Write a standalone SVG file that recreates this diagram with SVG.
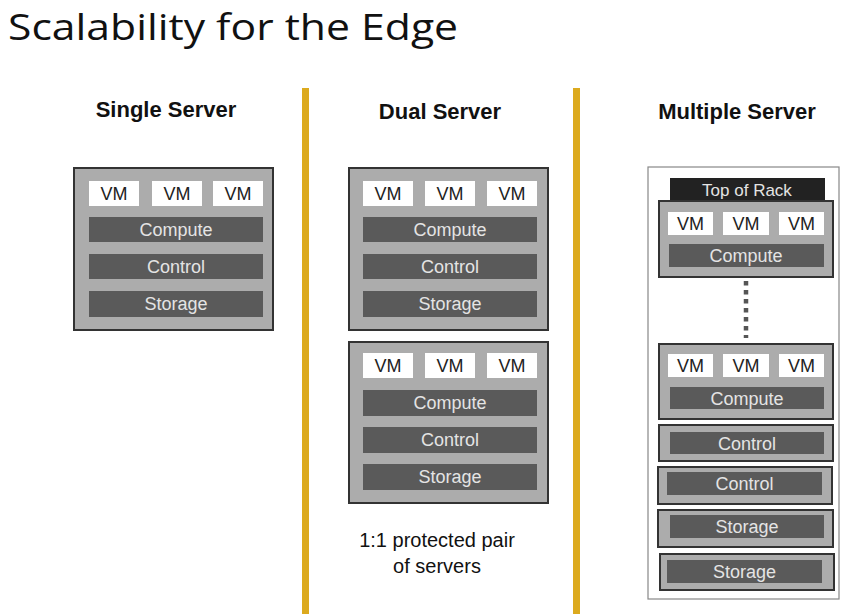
<svg xmlns="http://www.w3.org/2000/svg" width="865" height="614" viewBox="0 0 865 614">
<style>
text{font-family:"Liberation Sans",Arial,sans-serif;text-anchor:middle}
.title{font-family:"Open Sans","Liberation Sans",sans-serif;font-size:37px;fill:#111;text-anchor:start}
.hdr{font-size:22px;font-weight:bold;fill:#111}
.box{fill:#acacac;stroke:#333;stroke-width:2}
.vm{fill:#fff}
.vmt{font-size:18px;fill:#222}
.bar{fill:#5a5a5a}
.bt{font-size:18px;fill:#e4e4e4}
.tor{fill:#222}
.note{font-size:20px;fill:#111}
.div{fill:#dcaa1e}
.frame{fill:#fff;stroke:#888;stroke-width:1.2}
</style>
<rect width="865" height="614" fill="#fff"/>
<text class="title" x="8" y="40" textLength="450" lengthAdjust="spacingAndGlyphs">Scalability for the Edge</text>
<rect class="div" x="302" y="88" width="7" height="526"/>
<rect class="div" x="573" y="88" width="7" height="526"/>
<text class="hdr" x="166" y="117">Single Server</text>
<text class="hdr" x="440" y="119">Dual Server</text>
<text class="hdr" x="737" y="119">Multiple Server</text>

<g id="single-server">
<rect class="box" x="74" y="168" width="199" height="162"/>
<rect class="vm" x="89" y="181" width="50" height="25"/><text class="vmt" x="114" y="200">VM</text>
<rect class="vm" x="152" y="181" width="50" height="25"/><text class="vmt" x="177" y="200">VM</text>
<rect class="vm" x="213" y="181" width="50" height="25"/><text class="vmt" x="238" y="200">VM</text>
<rect class="bar" x="89" y="217" width="174" height="25"/><text class="bt" x="176" y="236">Compute</text>
<rect class="bar" x="89" y="254" width="174" height="25"/><text class="bt" x="176" y="273">Control</text>
<rect class="bar" x="89" y="291" width="174" height="26"/><text class="bt" x="176" y="310">Storage</text>
</g>

<g id="dual-server-1">
<rect class="box" x="349" y="168" width="199" height="162"/>
<rect class="vm" x="363" y="181" width="50" height="25"/><text class="vmt" x="388" y="200">VM</text>
<rect class="vm" x="425" y="181" width="50" height="25"/><text class="vmt" x="450" y="200">VM</text>
<rect class="vm" x="487" y="181" width="50" height="25"/><text class="vmt" x="512" y="200">VM</text>
<rect class="bar" x="363" y="217" width="174" height="25"/><text class="bt" x="450" y="236">Compute</text>
<rect class="bar" x="363" y="254" width="174" height="25"/><text class="bt" x="450" y="273">Control</text>
<rect class="bar" x="363" y="291" width="174" height="26"/><text class="bt" x="450" y="310">Storage</text>
</g>

<g id="dual-server-2">
<rect class="box" x="349" y="342" width="199" height="161"/>
<rect class="vm" x="363" y="353" width="50" height="25"/><text class="vmt" x="388" y="372">VM</text>
<rect class="vm" x="425" y="353" width="50" height="25"/><text class="vmt" x="450" y="372">VM</text>
<rect class="vm" x="487" y="353" width="50" height="25"/><text class="vmt" x="512" y="372">VM</text>
<rect class="bar" x="363" y="390" width="174" height="26"/><text class="bt" x="450" y="409">Compute</text>
<rect class="bar" x="363" y="427" width="174" height="26"/><text class="bt" x="450" y="446">Control</text>
<rect class="bar" x="363" y="464" width="174" height="26"/><text class="bt" x="450" y="483">Storage</text>
</g>

<g id="pair-note">
<text class="note" x="437" y="547">1:1 protected pair</text>
<text class="note" x="437" y="573">of servers</text>
</g>

<g id="multi-frame">
<rect class="frame" x="648" y="167" width="191" height="432"/>
</g>

<g id="top-of-rack">
<rect class="tor" x="670" y="178" width="155" height="22"/>
<text class="bt" x="747" y="196" style="font-size:17px">Top of Rack</text>
</g>

<g id="multi-compute-1">
<rect class="box" x="659" y="201" width="174" height="76"/>
<rect class="vm" x="668" y="212" width="45" height="23"/><text class="vmt" x="690.5" y="230">VM</text>
<rect class="vm" x="723" y="212" width="46" height="23"/><text class="vmt" x="746" y="230">VM</text>
<rect class="vm" x="779" y="212" width="45" height="23"/><text class="vmt" x="801.5" y="230">VM</text>
<rect class="bar" x="669" y="244" width="155" height="23"/><text class="bt" x="746" y="262">Compute</text>
</g>

<g id="connectors">
<line x1="746" y1="281" x2="746" y2="338" stroke="#555" stroke-width="4.5" stroke-dasharray="4.5 4.5"/>
</g>

<g id="multi-compute-2">
<rect class="box" x="659" y="344" width="174" height="75"/>
<rect class="vm" x="668" y="354" width="45" height="23"/><text class="vmt" x="690.5" y="372">VM</text>
<rect class="vm" x="723" y="354" width="46" height="23"/><text class="vmt" x="746" y="372">VM</text>
<rect class="vm" x="779" y="354" width="45" height="23"/><text class="vmt" x="801.5" y="372">VM</text>
<rect class="bar" x="670" y="387" width="154" height="22"/><text class="bt" x="747" y="405">Compute</text>
</g>

<g id="multi-control-1">
<rect class="box" x="659" y="425" width="174" height="36"/>
<rect class="bar" x="670" y="432" width="154" height="22"/><text class="bt" x="747" y="450">Control</text>
</g>

<g id="multi-control-2">
<rect class="box" x="658" y="467" width="174" height="37"/>
<rect class="bar" x="667" y="472" width="155" height="23"/><text class="bt" x="744.5" y="490">Control</text>
</g>

<g id="multi-storage-1">
<rect class="box" x="658" y="510" width="175" height="37"/>
<rect class="bar" x="670" y="515" width="154" height="23"/><text class="bt" x="747" y="533">Storage</text>
</g>

<g id="multi-storage-2">
<rect class="box" x="660" y="554" width="174" height="36"/>
<rect class="bar" x="667" y="560" width="155" height="23"/><text class="bt" x="744.5" y="578">Storage</text>
</g>
</svg>
